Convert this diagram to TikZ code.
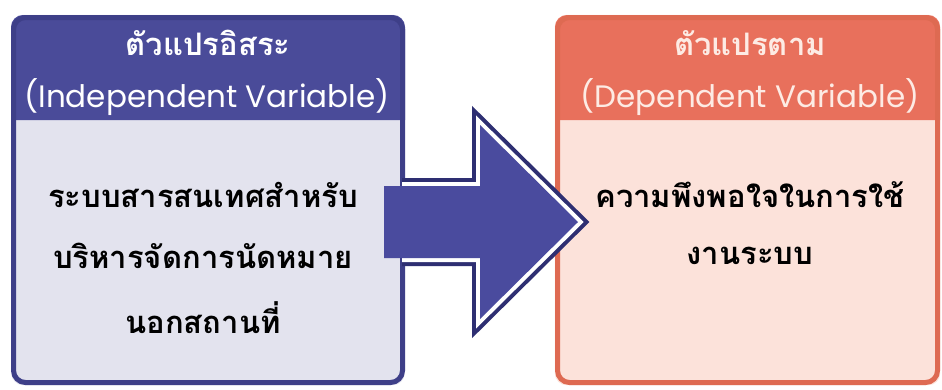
\documentclass[tikz,border=0pt]{standalone}
\usepackage{fontspec}
\newfontfamily\thaifont[Script=Thai]{Loma}
\newfontfamily\engfont{Poppins}
\definecolor{lhead}{HTML}{4A4B99}
\definecolor{lborder}{HTML}{3E3F88}
\definecolor{lbody}{HTML}{E3E3EE}
\definecolor{rhead}{HTML}{E8705C}
\definecolor{rborder}{HTML}{DE6A52}
\definecolor{rbody}{HTML}{FCE2DA}
\definecolor{rtext}{HTML}{FDEBE4}
\definecolor{arrfill}{HTML}{4A4B9E}
\definecolor{arrdark}{HTML}{2E2F72}
\tikzset{
  x=1pt, y=-1pt,
  hdrthai/.style={font=\thaifont\bfseries\fontsize{31}{34}\selectfont, inner sep=0pt},
  hdreng/.style={font=\engfont\fontsize{31}{34}\selectfont, inner sep=0pt},
  bodytxt/.style={font=\thaifont\bfseries\fontsize{31}{34}\selectfont, text=black, inner sep=0pt},
  boxframe/.style={rounded corners=12pt, line width=5pt}
}
\begin{document}
\begin{tikzpicture}
\useasboundingbox (0,0) rectangle (942,389);
\fill[white] (0,0) rectangle (942,389);
% left box
\node[minimum width=393pt, minimum height=370pt, inner sep=0pt] (L) at (208,200) {};
\fill[lbody, rounded corners=12pt] (L.north west) rectangle (L.south east);
\fill[lhead] (11,120) [rounded corners=12pt] -- (11,15) -- (405,15) [sharp corners] -- (405,120) -- cycle;
\draw[lborder, boxframe] (13.5,17.5) rectangle (402.5,382.5);
% right box
\node[minimum width=385pt, minimum height=370pt, inner sep=0pt] (R) at (747.5,200) {};
\fill[rbody, rounded corners=12pt] (R.north west) rectangle (R.south east);
\fill[rhead] (555,120) [rounded corners=12pt] -- (555,15) -- (940,15) [sharp corners] -- (940,120) -- cycle;
\draw[rborder, boxframe] (557.5,17.5) rectangle (937.5,382.5);
% header texts
\node[hdrthai, text=white] (lh1) at (208,43) {ตัวแปรอิสระ};
\node[hdreng, text=white] (lh2) at (207,97) {(Independent Variable)};
\node[hdrthai, text=rtext] (rh1) at (750,43) {ตัวแปรตาม};
\node[hdreng, text=rtext] (rh2) at (750,97) {(Dependent Variable)};
% body texts
\node[bodytxt] (lb1) at (203,195) {ระบบสารสนเทศสำหรับ};
\node[bodytxt] (lb2) at (203,256) {บริหารจัดการนัดหมาย};
\node[bodytxt] (lb3) at (203,318) {นอกสถานที่};
\node[bodytxt] (rb1) at (750,195) {ความพึงพอใจในการใช้};
\node[bodytxt] (rb2) at (750,256) {งานระบบ};
% arrow
\coordinate (tip) at (578,222);
\draw[arrdark, line width=16pt, line join=miter] (402,186) -- (480,186) -- (480,125) -- (tip) -- (480,319) -- (480,258) -- (402,258);
\draw[white, line width=8pt, line join=miter] (402,186) -- (480,186) -- (480,125) -- (tip) -- (480,319) -- (480,258) -- (402,258);
\fill[arrfill] (384,186) -- (480,186) -- (480,125) -- (tip) -- (480,319) -- (480,258) -- (384,258) -- cycle;
\end{tikzpicture}
\end{document}
